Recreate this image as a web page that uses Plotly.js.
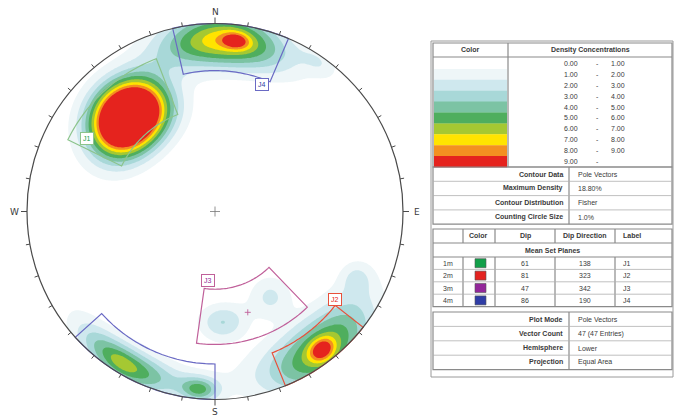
<!DOCTYPE html>
<html>
<head>
<meta charset="utf-8">
<script src="https://cdn.plot.ly/plotly-3.0.1.min.js"></script>
<style>
  html, body { margin: 0; padding: 0; background: #ffffff; }
  #net { width: 674px; height: 418px; }
</style>
</head>
<body>
<div id="net"></div>
<script>
// ---- Density legend ----
const densityFrom = ['0.00','1.00','2.00','3.00','4.00','5.00','6.00','7.00','8.00','9.00'];
const densityTo   = ['1.00','2.00','3.00','4.00','5.00','6.00','7.00','8.00','9.00',''];
const densityColors = ['#ffffff','#eef6f8','#cfe8ee','#a8d8d8','#7cc3a4','#4fae5e','#a5c832','#ffe400','#f39021','#e5231e'];

// ---- Contour summary ----
const contourKeys = ['Contour Data','Maximum Density','Contour Distribution','Counting Circle Size'];
const contourVals = ['Pole Vectors','18.80%','Fisher','1.0%'];

// ---- Mean set planes ----
const setIds     = ['1m','2m','3m','4m'];
const setColors  = ['#12a04a','#e42320','#93279a','#2f3da6'];
const setOutline = ['#8cc48c','#e8503a','#c0609a','#6a6ac4'];
const setDips    = [61, 81, 47, 86];
const setDipDirs = [138, 323, 342, 190];
const setLabels  = ['J1','J2','J3','J4'];

// ---- Set windows: pole trend range and pole plunge range ----
const winSet       = [0, 1, 2, 3, 3];
const winTrendFrom = [296, 128, 136, 347, 180];
const winTrendTo   = [339, 158, 188, 23, 228];
const winPlungeMin = [14, 0, 30, 0, 0];
const winPlungeMax = [44, 20, 56, 26, 20];

// ---- Plot information ----
const infoKeys = ['Plot Mode','Vector Count','Hemisphere','Projection'];
const infoVals = ['Pole Vectors','47 (47 Entries)','Lower','Equal Area'];

// ---- Pole concentrations: trend, plunge, peak density (%), radial / tangential spread ----
const clTrend   = [317.5, 317,  3,    7,    142.3, 142.3, 211.5, 211.5, 200,  185,  176,  147,  115,  35];
const clPlunge  = [32.5,  30.7, 9.9,  9.4,  7.8,   7.8,   6.1,   6.1,   7.8,  5.6,  40.7, 45.1, 18.1, 3.4];
const clPeak    = [17.5,  1.3,  7.8,  3.5,  6.5,   4.5,   5.2,   0.8,   1.2,  4.3,  3.0,  2.2,  1.6,  1.5];
const clSpreadR = [0.115, 0.16, 0.10, 0.03, 0.12,  0.04,  0.07,  0.025, 0.08, 0.045,0.07, 0.08, 0.06, 0.05];
const clSpreadT = [0.14,  0.25, 0.24, 0.05, 0.24,  0.05,  0.20,  0.05,  0.30, 0.07, 0.09, 0.08, 0.06, 0.08];

// ---- Page geometry (pixels) ----
const W = 674, H = 418;
const CX = 215, CY = 211.5, R = 188;
const D2R = Math.PI / 180;

// equal-area lower-hemisphere projection of a pole (unit circle = primitive)
function projR(plunge) { return Math.SQRT2 * Math.sin((90 - plunge) / 2 * D2R); }
function proj(trend, plunge) {
  const r = projR(plunge);
  return [r * Math.sin(trend * D2R), r * Math.cos(trend * D2R)];
}

// density surface on a regular grid
const step = 0.008;
const gx = [], gy = [];
for (let v = -1.0; v <= 1.0001; v += step) { gx.push(+v.toFixed(4)); gy.push(+v.toFixed(4)); }
const clR = clPlunge.map(projR);
const Z = gy.map(y => gx.map(x => {
  const r = Math.hypot(x, y);
  const az = Math.atan2(x, y) / D2R;
  let s = 0;
  for (let k = 0; k < clTrend.length; k++) {
    let da = az - clTrend[k];
    da = ((da + 540) % 360) - 180;
    const dt = da * D2R * (r + clR[k]) / 2;
    const dr = r - clR[k];
    s += clPeak[k] * Math.exp(-0.5 * (dr / clSpreadR[k]) ** 2 - 0.5 * (dt / clSpreadT[k]) ** 2);
  }
  return s;
}));

const densityTrace = {
  type: 'contour', x: gx, y: gy, z: Z,
  autocontour: false,
  contours: { start: 1, end: 9, size: 1, coloring: 'fill', showlines: false },
  colorscale: densityColors.map((c, i) => [i / (densityColors.length - 1), c]),
  line: { width: 0, smoothing: 1.3 },
  showscale: false, hoverinfo: 'skip'
};

// ---- shapes ----
const shapes = [];
const px = v => v / W, py = v => 1 - v / H;

// white mask outside the primitive circle
let mask = 'M-1.3,-1.3L1.3,-1.3L1.3,1.3L-1.3,1.3Z M';
for (let a = 0; a <= 360; a += 2) {
  mask += (a ? 'L' : '') + Math.sin(a * D2R).toFixed(5) + ',' + Math.cos(a * D2R).toFixed(5);
}
mask += 'Z';
shapes.push({ type: 'path', path: mask, fillcolor: '#ffffff', fillrule: 'evenodd', line: { width: 0 }, layer: 'above' });

// set windows
function arcPts(t0, t1, pl) {
  const pts = [];
  const n = 40;
  for (let i = 0; i <= n; i++) pts.push(proj(t0 + (t1 - t0) * i / n, pl));
  return pts;
}
for (let w = 0; w < winSet.length; w++) {
  let t0 = winTrendFrom[w], t1 = winTrendTo[w];
  if (t1 < t0) t1 += 360;
  const outer = arcPts(t0, t1, winPlungeMin[w]);
  const inner = arcPts(t1, t0, winPlungeMax[w]);
  const pts = outer.concat(inner);
  const path = 'M' + pts.map(p => p[0].toFixed(4) + ',' + p[1].toFixed(4)).join('L') + 'Z';
  shapes.push({ type: 'path', path, line: { color: setOutline[winSet[w]], width: 1.2 }, layer: 'above' });
}

// primitive circle, ticks, centre cross
shapes.push({ type: 'circle', x0: -1, y0: -1, x1: 1, y1: 1, line: { color: '#4a4a4a', width: 1.2 }, layer: 'above' });
let ticks = '';
for (let a = 0; a < 360; a += 10) {
  const len = (a % 90 === 0 ? 6 : 4) / R;
  const s = Math.sin(a * D2R), c = Math.cos(a * D2R);
  ticks += `M${s.toFixed(4)},${c.toFixed(4)}L${(s * (1 + len)).toFixed(4)},${(c * (1 + len)).toFixed(4)}`;
}
shapes.push({ type: 'path', path: ticks, line: { color: '#4a4a4a', width: 1 }, layer: 'above' });
const cr = 5 / R;
shapes.push({ type: 'path', path: `M${-cr},0L${cr},0M0,${-cr}L0,${cr}`, line: { color: '#777', width: 0.8 }, layer: 'above' });

// mean pole marker of the third set
{
  const p = proj(setDipDirs[2] + 180, 90 - setDips[2]);
  const m = 3 / R;
  shapes.push({ type: 'path', path: `M${p[0] - m},${p[1]}L${p[0] + m},${p[1]}M${p[0]},${p[1] - m}L${p[0]},${p[1] + m}`,
    line: { color: setOutline[2], width: 0.9 }, layer: 'above' });
}

// ---- annotations ----
const annotations = [];
const FONT = 'Liberation Sans, Arial, sans-serif';
function txt(text, x, y, opt = {}) {
  annotations.push(Object.assign({
    text, x: px(x), y: py(y), xref: 'paper', yref: 'paper', showarrow: false,
    xanchor: 'center', yanchor: 'middle',
    font: { family: FONT, size: 7, color: '#3a3a3a' }
  }, opt));
}

// compass letters
[['N', 0, 1.062], ['E', 1.075, 0], ['S', 0, -1.064], ['W', -1.066, 0]].forEach(([t, x, y]) => {
  annotations.push({ text: t, x, y, xref: 'x', yref: 'y', showarrow: false,
    font: { family: 'DejaVu Sans, sans-serif', size: 9, color: '#3a3a3a' } });
});

// set labels on window corners
const labelCorner = [[296, 14, 19, 1], [128, 20, 0, 6], [188, 56, 4, 8], [23, 26, -8, -3]];
for (let s = 0; s < 4; s++) {
  const [t, pl, dx, dy] = labelCorner[s];
  const p = proj(t, pl);
  annotations.push({ text: setLabels[s], x: p[0], y: p[1], xref: 'x', yref: 'y', showarrow: false,
    xshift: dx, yshift: dy, bgcolor: '#ffffff', bordercolor: setOutline[s], borderwidth: 1, borderpad: 2,
    font: { family: FONT, size: 7, color: setColors[s] } });
}

// ---- legend table ----
const TL = 433, TR = 672, SPLIT1 = 508;
const border = { color: '#8a8a8a', width: 1.2 };
const thin = { color: '#b0b0b0', width: 0.8 };
function rect(x0, y0, x1, y1, line, fill) {
  shapes.push({ type: 'rect', xref: 'paper', yref: 'paper', x0: px(x0), x1: px(x1), y0: py(y1), y1: py(y0),
    line: line || { width: 0 }, fillcolor: fill || 'rgba(0,0,0,0)', layer: 'above' });
}
function hline(x0, x1, y, line) {
  shapes.push({ type: 'line', xref: 'paper', yref: 'paper', x0: px(x0), x1: px(x1), y0: py(y), y1: py(y), line, layer: 'above' });
}
function vline(x, y0, y1, line) {
  shapes.push({ type: 'line', xref: 'paper', yref: 'paper', x0: px(x), x1: px(x), y0: py(y0), y1: py(y1), line, layer: 'above' });
}

// outer frame
rect(431, 41, 673, 377, { color: '#9a9a9a', width: 1 });

// section 1: colour ramp
const s1Top = 43, s1Head = 57, s1Bot = 167;
rect(TL, s1Top, TR, s1Bot, border);
hline(TL, TR, s1Head, border);
vline(SPLIT1, s1Top, s1Bot, border);
txt('<b>Color</b>', (TL + SPLIT1) / 2, (s1Top + s1Head) / 2);
txt('<b>Density Concentrations</b>', (SPLIT1 + TR) / 2, (s1Top + s1Head) / 2);
const rowH = (s1Bot - s1Head - 1) / densityColors.length;
for (let i = 0; i < densityColors.length; i++) {
  const y0 = s1Head + 1 + i * rowH;
  rect(TL + 1, y0, SPLIT1 - 1, y0 + rowH + 0.3, null, densityColors[i]);
  const yc = y0 + rowH / 2;
  txt(densityFrom[i], 571, yc);
  txt('-', 597, yc);
  if (densityTo[i]) txt(densityTo[i], 618, yc);
}

// section 2: contour summary
const s2Top = 167, s2Row = 14.3, SPLIT2 = 569;
rect(TL, s2Top, TR, s2Top + 4 * s2Row, border);
vline(SPLIT2, s2Top, s2Top + 4 * s2Row, border);
for (let i = 0; i < contourKeys.length; i++) {
  const yc = s2Top + (i + 0.5) * s2Row;
  if (i) hline(TL, TR, s2Top + i * s2Row, thin);
  txt('<b>' + contourKeys[i] + '</b>', SPLIT2 - 4, yc, { xanchor: 'right' });
  txt(contourVals[i], SPLIT2 + 7, yc, { xanchor: 'left' });
}

// section 3: mean set planes
const s3Top = 229, s3Head = 243, s3Title = 257, s3Row = 12.4;
const s3Bot = s3Title + 4 * s3Row;
const cols = [TL, 463, 495, 555, 615, TR];
rect(TL, s3Top, TR, s3Bot, border);
hline(TL, TR, s3Head, border);
hline(TL, TR, s3Title, border);
cols.slice(1, -1).forEach(c => { vline(c, s3Top, s3Head, border); vline(c, s3Title, s3Bot, border); });
txt('<b>Color</b>', 479, (s3Top + s3Head) / 2);
txt('<b>Dip</b>', 525, (s3Top + s3Head) / 2);
txt('<b>Dip Direction</b>', 585, (s3Top + s3Head) / 2);
txt('<b>Label</b>', 632, (s3Top + s3Head) / 2);
txt('<b>Mean Set Planes</b>', (TL + TR) / 2, (s3Head + s3Title) / 2);
for (let i = 0; i < setIds.length; i++) {
  const y0 = s3Title + i * s3Row, yc = y0 + s3Row / 2;
  if (i) hline(TL, TR, y0, thin);
  txt(setIds[i], 448, yc);
  rect(475, yc - 4.5, 486, yc + 4.5, { color: '#555', width: 0.6 }, setColors[i]);
  txt(String(setDips[i]), 525, yc);
  txt(String(setDipDirs[i]), 585, yc);
  txt(setLabels[i], 621, yc, { xanchor: 'left' });
}

// section 4: plot information
const s4Top = 312, s4Row = 14.4, SPLIT4 = 569;
rect(TL, s4Top, TR, s4Top + 4 * s4Row, border);
vline(SPLIT4, s4Top, s4Top + 4 * s4Row, border);
for (let i = 0; i < infoKeys.length; i++) {
  const yc = s4Top + (i + 0.5) * s4Row;
  if (i) hline(TL, TR, s4Top + i * s4Row, thin);
  txt('<b>' + infoKeys[i] + '</b>', SPLIT4 - 4, yc, { xanchor: 'right' });
  txt(infoVals[i], SPLIT4 + 7, yc, { xanchor: 'left' });
}

const layout = {
  width: W, height: H,
  margin: { l: 0, r: 0, t: 0, b: 0 },
  paper_bgcolor: '#ffffff', plot_bgcolor: '#ffffff',
  showlegend: false,
  xaxis: { range: [-CX / R, (W - CX) / R], visible: false, fixedrange: true },
  yaxis: { range: [(CY - H) / R, CY / R], visible: false, fixedrange: true },
  shapes, annotations
};

Plotly.newPlot('net', [densityTrace], layout, { staticPlot: true, displayModeBar: false });
</script>
</body>
</html>
